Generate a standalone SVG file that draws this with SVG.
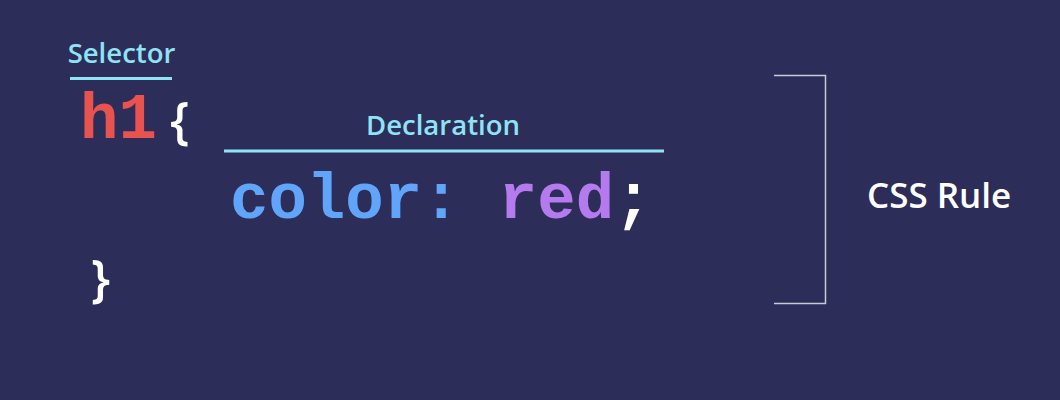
<svg xmlns="http://www.w3.org/2000/svg" width="1060" height="400" viewBox="0 0 1060 400">
<style>
.lbl{font-family:"Open Sans","Noto Sans",sans-serif;font-weight:600;fill:#8fe3f5;}
.code{font-family:"Courier New","Nimbus Mono PS","FreeMono","Liberation Mono",monospace;font-weight:700;font-size:64px;}
.brace{font-family:"Open Sans","Noto Sans",sans-serif;font-weight:600;fill:#ffffff;font-size:50px;}
.uline{stroke:#8fe3f5;stroke-width:3;}
</style>
<rect width="1060" height="400" fill="#2c2d58"/>
<g id="selector">
<text class="lbl" x="121.5" y="63" font-size="27.5" text-anchor="middle">Selector</text>
<line class="uline" x1="70" y1="78.5" x2="172" y2="78.5"/>
<text class="code" x="80" y="138" fill="#e8524f">h1</text>
</g>
<g id="open-brace"><text class="brace" x="170" y="138">{</text></g>
<g id="declaration">
<text class="lbl" x="443" y="135" font-size="27.5" text-anchor="middle">Declaration</text>
<line class="uline" x1="224" y1="151" x2="664" y2="151"/>
<text class="code" x="230" y="218"><tspan fill="#60a5fa">color: </tspan><tspan fill="#b57bee">red</tspan><tspan fill="#ffffff">;</tspan></text>
</g>
<g id="close-brace"><text class="brace" x="91" y="296">}</text></g>
<g id="rule">
<path d="M774 75.5 H825.5 V303.5 H774" fill="none" stroke="#c8cad8" stroke-width="1.5"/>
<text x="867" y="208" font-family="Open Sans, Noto Sans, sans-serif" font-weight="600" font-size="35" fill="#ffffff">CSS Rule</text>
</g>
</svg>
